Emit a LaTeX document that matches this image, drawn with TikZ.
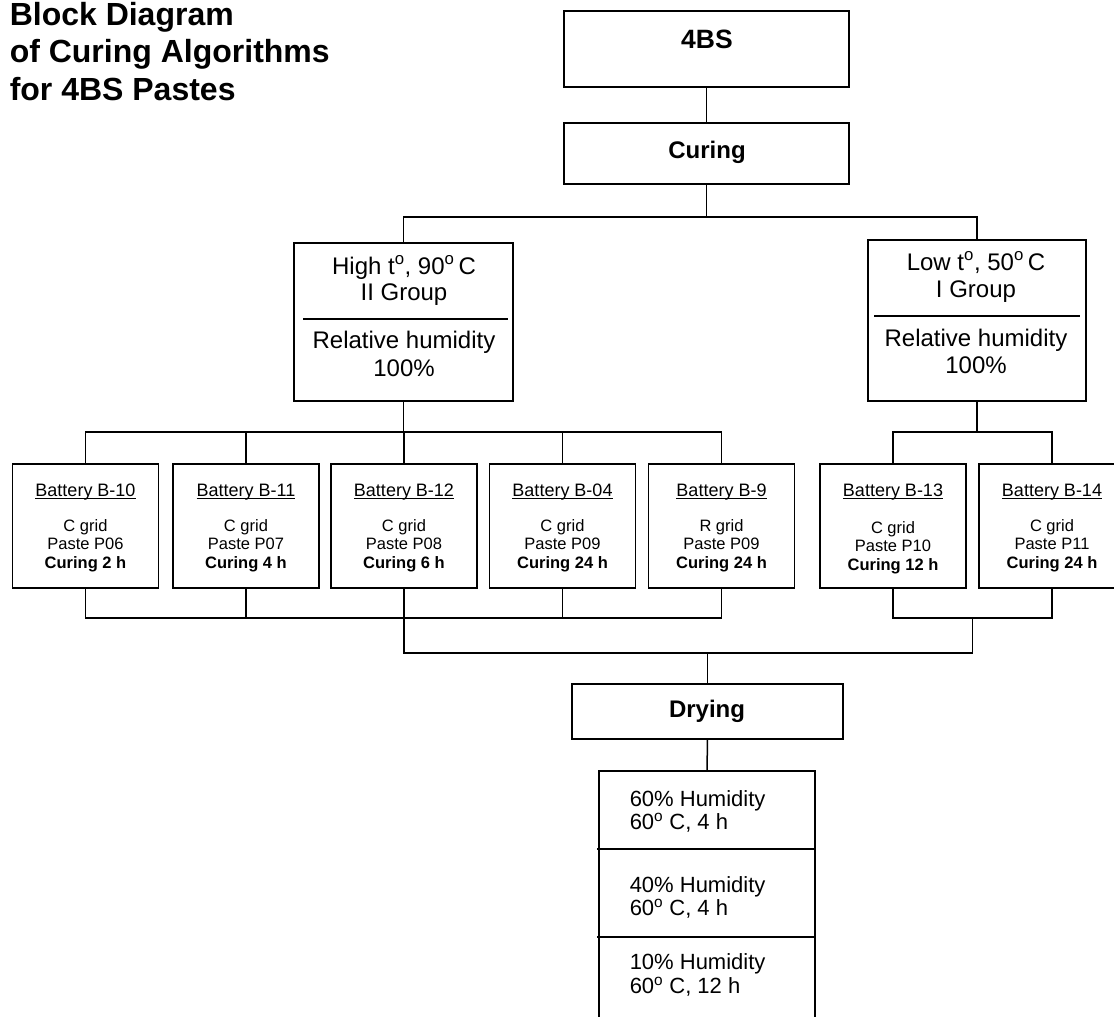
\documentclass[tikz,border=0pt]{standalone}
\usepackage{fontspec}
\setmainfont{Liberation Sans}
\usetikzlibrary{calc}
\newcommand\myul[1]{\leavevmode\setbox0=\hbox{#1}\rlap{\rule[-2.4pt]{\wd0}{0.9pt}}\box0}
\begin{document}
\begin{tikzpicture}[x=1pt,y=-1pt,line width=1.5pt,
  box/.style={draw,line width=1.5pt,inner sep=0pt,outer sep=0pt},
  batt/.style={box,minimum width=146pt,minimum height=124pt},
  titletext/.style={anchor=base west,inner sep=0pt,font=\bfseries\fontsize{32}{36}\selectfont},
  headtext/.style={anchor=base,inner sep=0pt,font=\bfseries\fontsize{24}{26}\selectfont},
  bigtext/.style={anchor=base,inner sep=0pt,font=\fontsize{24}{27}\selectfont},
  btitle/.style={anchor=base,inner sep=0pt,font=\fontsize{18}{20}\selectfont},
  bline/.style={anchor=base,inner sep=0pt,font=\fontsize{16.5}{18}\selectfont},
  bbold/.style={anchor=base,inner sep=0pt,font=\bfseries\fontsize{16.5}{18}\selectfont},
  tabtext/.style={anchor=base west,inner sep=0pt,font=\fontsize{22}{24}\selectfont}]
\useasboundingbox (0,0) rectangle (1114,1017);
\clip (0,0) rectangle (1114,1017);

% title
\node[titletext] (t1) at (9,25) {Block Diagram};
\node[titletext] (t2) at (9,62) {of Curing Algorithms};
\node[titletext] (t3) at (9,100) {for 4BS Pastes};

% boxes
\node[box,minimum width=285pt,minimum height=76pt] (fourbs) at (706.5,49) {};
\node[box,minimum width=285pt,minimum height=61pt] (curing) at (706.5,153.5) {};
\node[box,minimum width=219pt,minimum height=158pt] (high) at (403.5,322) {};
\node[box,minimum width=218pt,minimum height=161pt] (low) at (977,320.5) {};
\node[batt] (b10) at (85.5,526) {};
\node[batt] (b11) at (246,526) {};
\node[batt] (b12) at (404,526) {};
\node[batt] (b04) at (562.5,526) {};
\node[batt] (b9) at (721.5,526) {};
\node[batt] (b13) at (893,526) {};
\node[batt] (b14) at (1052,526) {};
\node[box,minimum width=271pt,minimum height=55pt] (drying) at (707.5,711.5) {};
\node[box,minimum width=216pt,minimum height=270pt] (table) at (707,906) {};

% texts in boxes
\node[headtext,font=\bfseries\fontsize{26.5}{28}\selectfont] (tx4bs) at (707,48) {4BS};
\node[headtext] (txcur) at (707,158) {Curing};
\node[headtext] (txdry) at (707,717) {Drying};

\node[bigtext] (h1) at (404,274) {High t\textsuperscript{o}, 90\textsuperscript{o}\,C};
\node[bigtext] (h2) at (404,300) {II Group};
\node[bigtext] (h3) at (404,348) {Relative humidity};
\node[bigtext] (h4) at (404,376) {100\%};
\coordinate (hd1) at (303,319);
\coordinate (hd2) at (508,319);
\draw[line width=1.2pt] (hd1) -- (hd2);

\node[bigtext] (l1) at (976,270) {Low t\textsuperscript{o}, 50\textsuperscript{o}\,C};
\node[bigtext] (l2) at (976,297) {I Group};
\node[bigtext] (l3) at (976,346) {Relative humidity};
\node[bigtext] (l4) at (976,373) {100\%};
\coordinate (ld1) at (874,316);
\coordinate (ld2) at (1080,316);
\draw[line width=1.2pt] (ld1) -- (ld2);

% battery texts
\foreach \n/\g/\p/\c/\dy in {b10/B-10/C grid/Paste P06/Curing 2 h,
                              b11/B-11/C grid/Paste P07/Curing 4 h,
                              b12/B-12/C grid/Paste P08/Curing 6 h,
                              b04/B-04/C grid/Paste P09/Curing 24 h,
                              b9/B-9/R grid/Paste P09/Curing 24 h,
                              b14/B-14/C grid/Paste P11/Curing 24 h}{%
  \node[btitle] (\n t) at ($(\n.center)+(0,-30)$) {\myul{Battery \g}};
  \node[bline] (\n a) at ($(\n.center)+(0,5)$) {\p};
  \node[bline] (\n b) at ($(\n.center)+(0,23.5)$) {\c};
  \node[bbold] (\n c) at ($(\n.center)+(0,42)$) {\dy};
}
\node[btitle] (b13t) at ($(b13.center)+(0,-30)$) {\myul{Battery B-13}};
\node[bline] (b13a) at ($(b13.center)+(0,7)$) {C grid};
\node[bline] (b13b) at ($(b13.center)+(0,25.5)$) {Paste P10};
\node[bbold] (b13c) at ($(b13.center)+(0,44)$) {Curing 12 h};

% table texts
\node[tabtext] (r1a) at (629,806) {60\% Humidity};
\node[tabtext] (r1b) at (629,829) {60\textsuperscript{o} C, 4 h};
\node[tabtext] (r2a) at (629,892) {40\% Humidity};
\node[tabtext] (r2b) at (629,915) {60\textsuperscript{o} C, 4 h};
\node[tabtext] (r3a) at (629,969) {10\% Humidity};
\node[tabtext] (r3b) at (629,993) {60\textsuperscript{o} C, 12 h};
\coordinate (td1) at (597,849);
\coordinate (td2) at (597,937);
\draw (td1) -- (td1 -| table.east);
\draw (td2) -- (td2 -| table.east);

% connectors
\coordinate (topbar) at (0,217);
\coordinate (midbar) at (0,432);
\coordinate (botbar) at (0,618);
\coordinate (lowbar) at (0,653);

\draw (fourbs.south) -- (curing.north);
\draw (curing.south) -- (curing.south |- topbar);
\draw (high.north) -- (high.north |- topbar) -- (low.north |- topbar) -- (low.north);

\draw (high.south) -- (high.south |- midbar);
\draw (b10.north) -- (b10.north |- midbar) -- (b9.north |- midbar) -- (b9.north);
\foreach \b in {b11,b12,b04} \draw (\b.north) -- (\b.north |- midbar);
\draw (low.south) -- (low.south |- midbar);
\draw (b13.north) -- (b13.north |- midbar) -- (b14.north |- midbar) -- (b14.north);

\draw (b10.south) -- (b10.south |- botbar) -- (b9.south |- botbar) -- (b9.south);
\foreach \b in {b11,b04} \draw (\b.south) -- (\b.south |- botbar);
\draw (b13.south) -- (b13.south |- botbar) -- (b14.south |- botbar) -- (b14.south);
\coordinate (rj) at ($(b13.south |- botbar)!0.5!(b14.south |- botbar)$);
\draw (b12.south) -- (b12.south |- lowbar) -- (rj |- lowbar) -- (rj);
\draw (drying.north) -- (drying.north |- lowbar);
\draw (drying.south) -- (table.north);
\end{tikzpicture}
\end{document}
